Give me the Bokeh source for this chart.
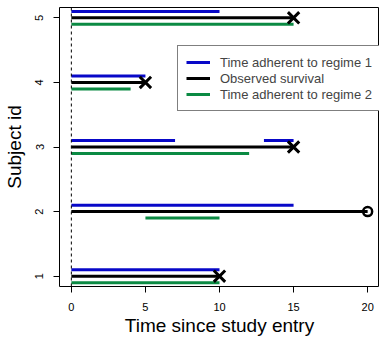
from bokeh.plotting import figure
from bokeh.models import ColumnDataSource, Range1d, Span, Legend, LegendItem, FixedTicker
from bokeh.transform import dodge
from bokeh.embed import file_html
from bokeh.resources import INLINE

# Data
subjects = [1, 2, 3, 4, 5]
surv_time = [10, 20, 15, 5, 15]
event = [1, 0, 1, 1, 1]  # 1 = event (x), 0 = censored (o)

r1_subject = [1, 2, 3, 3, 4, 5]
r1_start = [0, 0, 0, 13, 0, 0]
r1_end = [10, 15, 7, 15, 5, 10]

r2_subject = [1, 2, 3, 4, 5]
r2_start = [0, 5, 0, 0, 0]
r2_end = [10, 10, 12, 4, 15]

x_ticks = [0, 5, 10, 15, 20]
y_ticks = [1, 2, 3, 4, 5]

BLUE = "#0808c8"
GREEN = "#0b8a43"
FONT = "Liberation Sans"

p = figure(width=379, height=338, output_backend="svg", toolbar_location=None,
           x_range=Range1d(-0.8, 20.8), y_range=Range1d(0.84, 5.16),
           min_border_left=59, min_border_right=0, min_border_top=7, min_border_bottom=51)

p.grid.visible = False
p.outline_line_color = "black"
p.outline_line_width = 1
p.background_fill_color = "white"
p.border_fill_color = "white"

obs = ColumnDataSource(dict(y=subjects, x0=[0]*len(subjects), x1=surv_time))
r1 = ColumnDataSource(dict(y=r1_subject, x0=r1_start, x1=r1_end))
r2 = ColumnDataSource(dict(y=r2_subject, x0=r2_start, x1=r2_end))

p.add_layout(Span(location=0, dimension="height", line_color="black",
                  line_width=1, line_dash="3 3"))

g_obs = p.segment(x0="x0", x1="x1", y0="y", y1="y", source=obs, line_color="black", line_width=3)
g_r1 = p.segment(x0="x0", x1="x1", y0=dodge("y", 0.1, range=p.y_range), y1=dodge("y", 0.1, range=p.y_range),
                 source=r1, line_color=BLUE, line_width=3)
g_r2 = p.segment(x0="x0", x1="x1", y0=dodge("y", -0.1, range=p.y_range), y1=dodge("y", -0.1, range=p.y_range),
                 source=r2, line_color=GREEN, line_width=3)

ev_x = [t for t, e in zip(surv_time, event) if e == 1]
ev_y = [s for s, e in zip(subjects, event) if e == 1]
ce_x = [t for t, e in zip(surv_time, event) if e == 0]
ce_y = [s for s, e in zip(subjects, event) if e == 0]
p.scatter(ev_x, ev_y, marker="x", size=16, line_color="black", line_width=3)
p.scatter(ce_x, ce_y, marker="circle", size=9, fill_color=None, line_color="black", line_width=2.5)

legend = Legend(items=[
    LegendItem(label="Time adherent to regime 1", renderers=[g_r1]),
    LegendItem(label="Observed survival", renderers=[g_obs]),
    LegendItem(label="Time adherent to regime 2", renderers=[g_r2]),
], location=(118, 175))
legend.border_line_color = "black"
legend.border_line_width = 1
legend.background_fill_alpha = 1
legend.label_text_font = FONT
legend.label_text_font_size = "13px"
legend.label_height = 16
legend.glyph_height = 16
legend.glyph_width = 24
legend.label_standoff = 10
legend.spacing = 0
legend.padding = 8
legend.margin = 0
legend.label_text_baseline = "middle"
p.add_layout(legend, "center")

for ax in (p.xaxis[0], p.yaxis[0]):
    ax.axis_line_color = None
    ax.major_tick_line_color = "black"
    ax.major_tick_out = 6
    ax.major_tick_in = 0
    ax.minor_tick_line_color = None
    ax.major_label_text_font = FONT
    ax.major_label_text_font_size = "11px"
    ax.major_label_text_color = "black"
    ax.major_label_standoff = 10
    ax.axis_label_text_font = FONT
    ax.axis_label_text_font_size = "19px"
    ax.axis_label_text_font_style = "normal"
    ax.axis_label_text_color = "black"

p.xaxis.ticker = FixedTicker(ticks=x_ticks)
p.yaxis.ticker = FixedTicker(ticks=y_ticks)
p.yaxis.major_label_orientation = "vertical"
p.xaxis.axis_label = "Time since study entry"
p.yaxis.axis_label = "Subject id"
p.xaxis.axis_label_standoff = 1
p.yaxis.axis_label_standoff = 8

open("out.html", "w").write(file_html(p, INLINE))
